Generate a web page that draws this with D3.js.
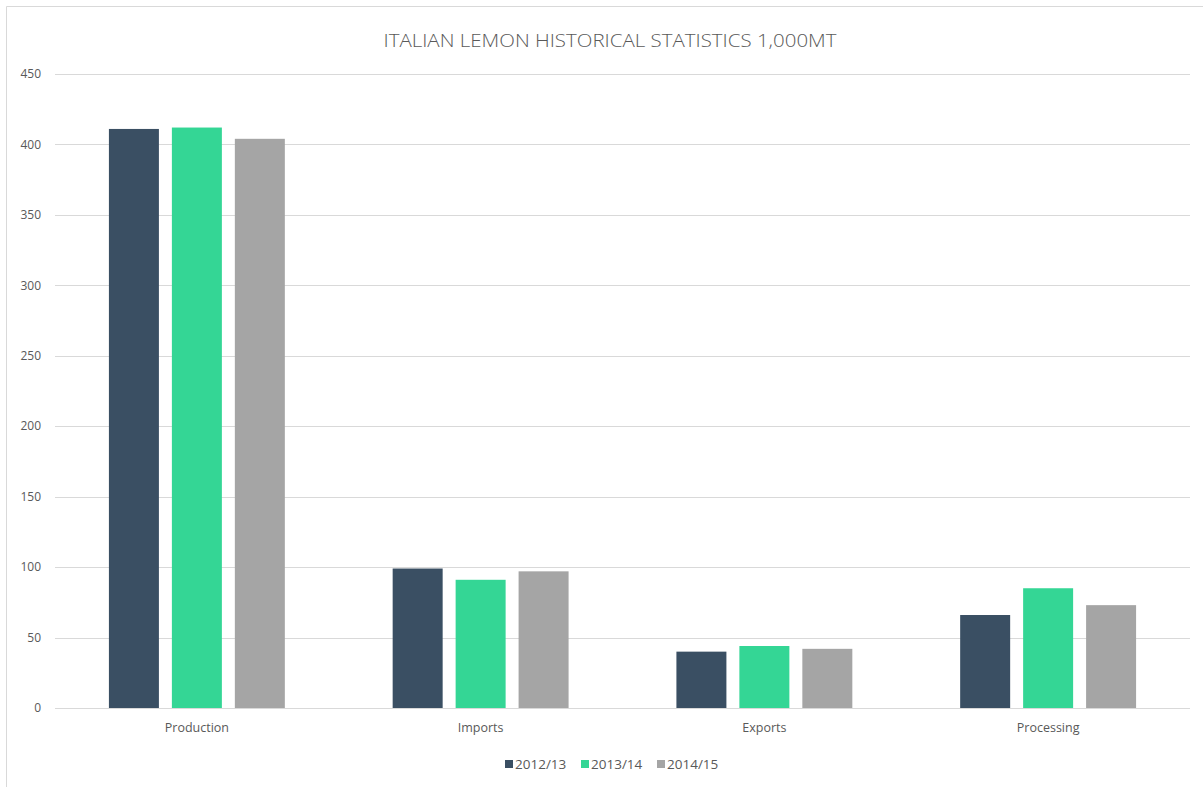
<!DOCTYPE html>
<html>
<head>
<meta charset="utf-8">
<script src="https://cdn.jsdelivr.net/npm/d3@7"></script>
<style>
  body { margin: 0; background: #fff; }
  svg text { font-family: "Open Sans", sans-serif; fill: #595959; }
</style>
</head>
<body>
<div id="chart"></div>
<script>
const width = 1203;
const height = 787;

const categories = ["Production", "Imports", "Exports", "Processing"];
const seriesNames = ["2012/13", "2013/14", "2014/15"];
const seriesColors = ["#3a4f63", "#34d695", "#a5a5a5"];
const values2012 = [411, 99, 40, 66];
const values2013 = [412, 91, 44, 85];
const values2014 = [404, 97, 42, 73];
const yTicks = [0, 50, 100, 150, 200, 250, 300, 350, 400, 450];

const seriesValues = [values2012, values2013, values2014];

const margin = {left: 55, right: 13, top: 74, bottom: 79};

const svg = d3.select("#chart").append("svg")
    .attr("width", width)
    .attr("height", height);

// outer frame (only top and left edges are visible)
svg.append("path")
    .attr("d", `M6.5,${height} V6.5 H${width}`)
    .attr("fill", "none")
    .attr("stroke", "#d9d9d9");

const x0 = d3.scaleBand()
    .domain(categories)
    .range([margin.left, width - margin.right]);

const groupGap = x0.bandwidth() * 0.19;
const x1 = d3.scaleBand()
    .domain(seriesNames)
    .range([groupGap, x0.bandwidth() - groupGap])
    .paddingInner(0.206);

const y = d3.scaleLinear()
    .domain([0, 450])
    .range([height - margin.bottom, margin.top]);

// gridlines
svg.append("g")
    .selectAll("line")
    .data(yTicks)
    .enter().append("line")
    .attr("x1", margin.left)
    .attr("x2", width - margin.right)
    .attr("y1", d => Math.round(y(d)) + 0.5)
    .attr("y2", d => Math.round(y(d)) + 0.5)
    .attr("stroke", "#d9d9d9")
    .attr("stroke-width", 1);

// y tick labels
svg.append("g")
    .selectAll("text")
    .data(yTicks)
    .enter().append("text")
    .attr("x", 41)
    .attr("y", d => y(d))
    .attr("dy", "0.35em")
    .attr("text-anchor", "end")
    .attr("font-size", 12)
    .text(d => d);

// bars
const groups = svg.append("g")
    .selectAll("g")
    .data(categories)
    .enter().append("g")
    .attr("transform", d => `translate(${x0(d)},0)`);

groups.selectAll("rect")
    .data((d, i) => seriesNames.map((s, j) => ({series: s, value: seriesValues[j][i], color: seriesColors[j]})))
    .enter().append("rect")
    .attr("x", d => x1(d.series))
    .attr("width", x1.bandwidth())
    .attr("y", d => y(d.value))
    .attr("height", d => y(0) - y(d.value))
    .attr("fill", d => d.color);

// x labels
svg.append("g")
    .selectAll("text")
    .data(categories)
    .enter().append("text")
    .attr("x", d => x0(d) + x0.bandwidth() / 2)
    .attr("y", 732)
    .attr("text-anchor", "middle")
    .attr("font-size", 12.5)
    .text(d => d);

// title
svg.append("text")
    .attr("x", 610)
    .attr("y", 47)
    .attr("text-anchor", "middle")
    .attr("font-size", 18.5)
    .attr("font-weight", 300)
    .attr("textLength", 453)
    .attr("lengthAdjust", "spacingAndGlyphs")
    .text("ITALIAN LEMON HISTORICAL STATISTICS 1,000MT");

// legend
const legendX = [505, 581, 657];
const legend = svg.append("g")
    .selectAll("g")
    .data(seriesNames)
    .enter().append("g")
    .attr("transform", (d, i) => `translate(${legendX[i]},764)`);

legend.append("rect")
    .attr("x", 0)
    .attr("y", -4)
    .attr("width", 8)
    .attr("height", 8)
    .attr("fill", (d, i) => seriesColors[i]);

legend.append("text")
    .attr("x", 10)
    .attr("y", 0)
    .attr("dy", "0.35em")
    .attr("font-size", 13.5)
    .text(d => d);
</script>
</body>
</html>
